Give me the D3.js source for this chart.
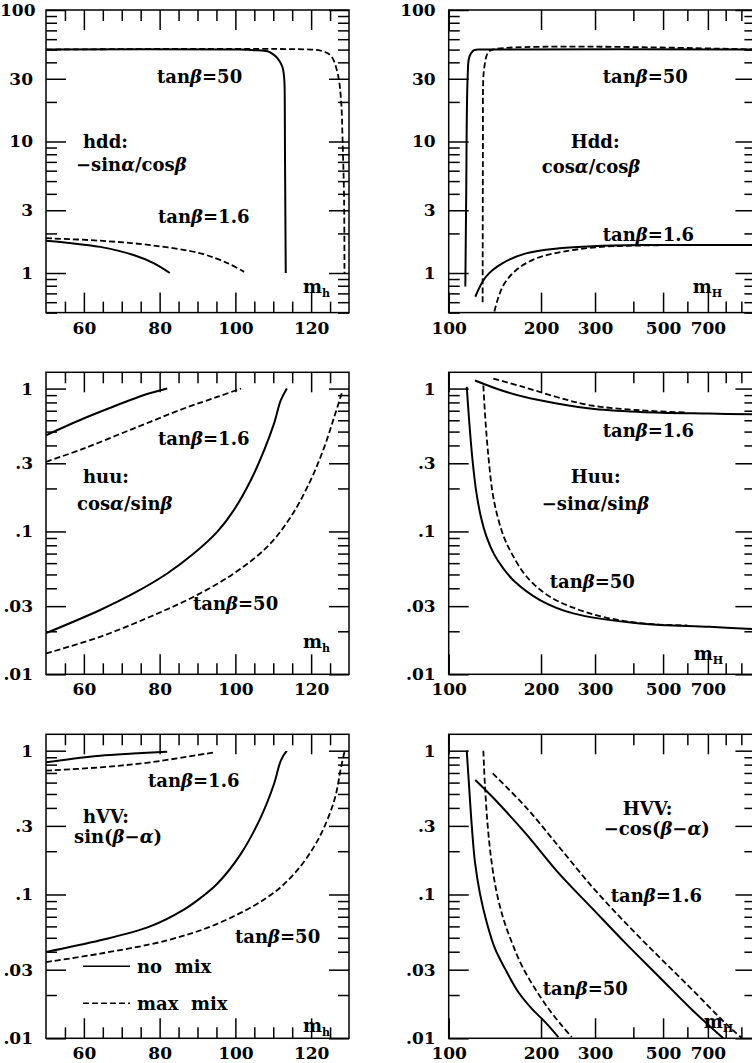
<!DOCTYPE html>
<html>
<head>
<meta charset="utf-8">
<script src="https://cdn.jsdelivr.net/npm/d3@7"></script>
<style>
body { margin: 0; background: #fff; }
svg { display: block; }
text { font-family: "DejaVu Serif", serif; font-weight: bold; fill: #000; }
</style>
</head>
<body>
<svg id="chart" width="752" height="1063"></svg>
<script>
// tick values
var linMajor = [60, 80, 100, 120],
    linMinor = [55, 65, 70, 75, 85, 90, 95, 105, 110, 115, 125],
    logMajor = [100, 200, 300, 500, 700],
    logMinor = [400, 600, 800, 900],
    yBigMajor = [1, 3, 10, 30, 100],
    ySmallMajor = [0.01, 0.03, 0.1, 0.3, 1];

// couplings: [mass, coupling]
// hdd : -sin(a)/cos(b)
var hdd50NoMix  = [[50,50],[101,50],[105,49.5],[108.5,48.5],[110,46],[111.1,43],[112.4,37],[112.9,30],[113.05,18],[113.1,8],[113.3,1]];
var hdd50MaxMix = [[50,50],[120,50],[122.6,49],[125.2,45],[127,33],[127.9,20.7],[128.3,10.3],[128.7,3.6],[128.8,1]];
var hdd16NoMix  = [[50,1.76],[55.5,1.70],[64.3,1.58],[73.1,1.37],[78.4,1.19],[82.7,1.0]];
var hdd16MaxMix = [[50,1.84],[64.3,1.76],[77.5,1.63],[90.8,1.41],[97.9,1.19],[102.3,1.02]];

// Hdd : cos(a)/cos(b)
var Hdd50NoMix  = [[113.3,0.79],[114,3.5],[115.3,31],[116.8,44],[121,49.5],[132,50],[1000,50]];
var Hdd50MaxMix = [[129,0.6],[129.3,10],[129.6,29],[130.7,37],[134,47],[139,50],[1000,50]];
var Hdd16NoMix  = [[122.1,0.66],[132.3,0.94],[150,1.19],[178.7,1.41],[229.5,1.54],[294.8,1.60],[429,1.63],[1000,1.63]];
var Hdd16MaxMix = [[140.9,0.51],[150,0.79],[165.8,1.05],[192.6,1.29],[235.4,1.45],[302,1.57],[429,1.62],[1000,1.63]];

// huu : cos(a)/sin(b)
var huu16NoMix  = [[50,0.471],[59.9,0.617],[68.7,0.764],[75.7,0.898],[82,1.0]];
var huu16MaxMix = [[50,0.307],[59.9,0.38],[73.1,0.525],[86.4,0.725],[95.2,0.874],[101.5,1.0]];
var huu50NoMix  = [[50,0.0194],[64.3,0.0282],[73.1,0.0368],[82,0.0508],[89,0.070],[95.2,0.0993],[99.6,0.141],[104.1,0.229],[107.6,0.371],[110.2,0.569],[112,0.829],[113.6,1.0]];
var huu50MaxMix = [[50,0.014],[64.3,0.0183],[77.5,0.0253],[89,0.0349],[99.6,0.0508],[108.4,0.078],[114.6,0.126],[119.9,0.229],[123.5,0.391],[126.1,0.633],[128.3,0.97]];

// Huu : -sin(a)/sin(b)
var Huu16NoMix  = [[121.8,1.14],[154.5,0.946],[198.5,0.828],[288.8,0.725],[420,0.686],[708,0.668],[1000,0.66]];
var Huu16MaxMix = [[139.8,1.175],[175.1,1.026],[225,0.873],[288.8,0.764],[420,0.705],[600,0.68]];
var Huu50NoMix  = [[114.5,1.03],[116.9,0.554],[119.6,0.315],[122.8,0.194],[127,0.13],[133,0.0912],[140.5,0.0694],[150.4,0.0554],[162.4,0.0456],[198.5,0.0331],[254.8,0.0267],[420,0.0227],[708,0.0215],[1000,0.0207]];
var Huu50MaxMix = [[129.7,1.05],[132.1,0.554],[135.1,0.315],[138.9,0.188],[144.2,0.128],[151.4,0.0912],[160.9,0.0694],[179.6,0.0482],[213.9,0.0349],[288.8,0.0267],[420,0.0228],[600,0.022]];

// hVV : sin(b-a)
var hVV16NoMix  = [[50,0.83],[57,0.88],[64.3,0.923],[73,0.955],[82,0.984]];
var hVV16MaxMix = [[50,0.726],[64.3,0.766],[77.5,0.83],[94.3,0.973]];
var hVV50NoMix  = [[50,0.0398],[64.3,0.048],[77.5,0.060],[86.4,0.0785],[91,0.0955],[95.2,0.1187],[101.4,0.191],[106.7,0.344],[110.2,0.587],[112,0.853],[113.6,1.0]];
var hVV50MaxMix = [[50,0.0339],[64.3,0.0388],[82,0.048],[95.2,0.0625],[108.5,0.0957],[115.5,0.139],[121.7,0.237],[126.1,0.45],[127.9,0.766],[128.8,0.98]];

// HVV : -cos(b-a)
var HVV50NoMix  = [[114.5,1.0],[116.5,0.571],[118.9,0.301],[121.8,0.168],[126.5,0.101],[133,0.0642],[141.6,0.042],[152.6,0.0305],[168.6,0.021],[186.5,0.0161],[206,0.013],[227.7,0.0102]];
var HVV50MaxMix = [[129.7,1.0],[131.3,0.571],[134,0.301],[138,0.168],[143.4,0.103],[150.7,0.068],[160.5,0.0467],[173,0.0321],[191.1,0.0222],[211.3,0.0161],[233.5,0.0123],[251.8,0.0102]];
var HVV16NoMix  = [[122.1,0.626],[139.2,0.474],[178.7,0.264],[229.5,0.139],[294.8,0.0794],[378.4,0.0455],[486,0.0267],[625,0.0156],[786,0.01]];
var HVV16MaxMix = [[139.2,0.695],[178.7,0.404],[229.5,0.213],[294.8,0.112],[378.4,0.063],[486,0.0367],[625,0.0216],[802,0.0126],[905,0.01]];

// layout
var cols = [{x0: 46, x1: 349, log: false}, {x0: 448.7, x1: 755.4, log: true}],
    rows = [{y0: 10, y1: 312.6}, {y0: 372.3, y1: 674.3}, {y0: 734.3, y1: 1038.3}];

var panels = [
    {col: 0, row: 0, yDom: [0.5, 100], big: true,
     curves: [[hdd50NoMix, 0], [hdd50MaxMix, 1], [hdd16NoMix, 0], [hdd16MaxMix, 1]],
     labels: [["tan{β}=50", 111, 67], ["hdd:", 37, 132], ["−sin{α}/cos{β}", 30, 155],
              ["tan{β}=1.6", 112, 207], ["m_h", 257, 277]]},
    {col: 1, row: 0, yDom: [0.5, 100], big: true,
     curves: [[Hdd50NoMix, 0], [Hdd50MaxMix, 1], [Hdd16NoMix, 0], [Hdd16MaxMix, 1]],
     labels: [["tan{β}=50", 154, 67], ["Hdd:", 122, 132, "normal"], ["cos{α}/cos{β}", 93, 157, "normal"],
              ["tan{β}=1.6", 154, 225], ["m_H", 244, 277]]},
    {col: 0, row: 1, yDom: [0.01, 1.3],
     curves: [[huu16NoMix, 0], [huu16MaxMix, 1], [huu50NoMix, 0], [huu50MaxMix, 1]],
     labels: [["tan{β}=1.6", 112, 66], ["huu:", 37, 104], ["cos{α}/sin{β}", 31, 131],
              ["tan{β}=50", 147, 231], ["m_h", 257, 269]]},
    {col: 1, row: 1, yDom: [0.01, 1.3],
     curves: [[Huu16NoMix, 0], [Huu16MaxMix, 1], [Huu50NoMix, 0], [Huu50MaxMix, 1]],
     labels: [["tan{β}=1.6", 154, 58], ["Huu:", 122, 104, "normal"], ["−sin{α}/sin{β}", 93, 131],
              ["tan{β}=50", 101, 209], ["m_H", 245, 281]]},
    {col: 0, row: 2, yDom: [0.01, 1.3], legend: true,
     curves: [[hVV16NoMix, 0], [hVV16MaxMix, 1], [hVV50NoMix, 0], [hVV50MaxMix, 1]],
     labels: [["tan{β}=1.6", 102, 46], ["hVV:", 37, 82], ["sin({β}−{α})", 28, 102],
              ["tan{β}=50", 189, 202], ["m_h", 257, 291]]},
    {col: 1, row: 2, yDom: [0.01, 1.3],
     curves: [[HVV50NoMix, 0], [HVV50MaxMix, 1], [HVV16NoMix, 0], [HVV16MaxMix, 1]],
     labels: [["HVV:", 174, 74], ["−cos({β}−{α})", 155, 94],
              ["tan{β}=1.6", 162, 161], ["tan{β}=50", 94, 254], ["m_H", 255, 287]]}
];

var svg = d3.select("#chart");

function fmtY(d) { return d < 1 ? String(d).replace(/^0/, "") : String(d); }

// {x} -> italic, _x -> subscript
function richText(sel, str) {
    str.split(/(\{[^}]*\}|_\w)/).filter(Boolean).forEach(function(p) {
        if (p[0] === "{") sel.append("tspan").attr("font-style", "italic").text(p.slice(1, -1));
        else if (p[0] === "_") sel.append("tspan").attr("font-size", "11px").attr("dy", 4).text(p.slice(1));
        else sel.append("tspan").text(p);
    });
}

function styleTicks(g) {
    g.select(".domain").remove();
    g.selectAll(".tick line").attr("stroke", "#000").attr("stroke-width", 1.5);
    g.selectAll(".tick text").attr("font-family", "DejaVu Serif").attr("font-weight", "bold")
        .attr("font-size", "17px").attr("fill", "#000");
}

panels.forEach(function(p, i) {
    var c = cols[p.col], r = rows[p.row],
        w = c.x1 - c.x0, h = r.y1 - r.y0;

    var x = c.log ? d3.scaleLog().domain([100, 1000]).range([0, w])
                  : d3.scaleLinear().domain([50, 130]).range([0, w]);
    var y = d3.scaleLog().domain(p.yDom).range([h, 0]);

    var xMajor = c.log ? logMajor : linMajor,
        xMinor = c.log ? logMinor : linMinor,
        yMajor = p.big ? yBigMajor : ySmallMajor,
        yMinor = y.ticks().filter(function(t) {
            return !yMajor.some(function(m) { return Math.abs(m - t) < 1e-9; });
        });

    var g = svg.append("g").attr("transform", "translate(" + c.x0 + "," + r.y0 + ")");

    // ticks, pointing inward
    g.append("g").attr("transform", "translate(0," + h + ")")
        .call(d3.axisBottom(x).tickValues(xMajor).tickSize(-20).tickSizeOuter(0).tickPadding(9)
              .tickFormat(d3.format("d"))).call(styleTicks);
    g.append("g").attr("transform", "translate(0," + h + ")")
        .call(d3.axisBottom(x).tickValues(xMinor).tickSize(-11).tickFormat("")).call(styleTicks);
    g.append("g").call(d3.axisTop(x).tickValues(xMajor).tickSize(-20).tickFormat("")).call(styleTicks);
    g.append("g").call(d3.axisTop(x).tickValues(xMinor).tickSize(-11).tickFormat("")).call(styleTicks);

    var left = g.append("g")
        .call(d3.axisLeft(y).tickValues(yMajor).tickSize(-20).tickSizeOuter(0).tickPadding(13).tickFormat(fmtY))
        .call(styleTicks);
    g.append("g").call(d3.axisLeft(y).tickValues(yMinor).tickSize(-11).tickFormat("")).call(styleTicks);
    g.append("g").attr("transform", "translate(" + w + ",0)")
        .call(d3.axisRight(y).tickValues(yMajor).tickSize(-20).tickFormat("")).call(styleTicks);
    g.append("g").attr("transform", "translate(" + w + ",0)")
        .call(d3.axisRight(y).tickValues(yMinor).tickSize(-11).tickFormat("")).call(styleTicks);

    // keep left labels inside the page
    left.selectAll(".tick text").each(function() {
        var b = this.getBBox(), m = this.parentNode.getCTM();
        var absX = m.e + b.x;
        if (absX < 0) d3.select(this).attr("x", +d3.select(this).attr("x") - absX);
    });

    g.append("rect").attr("width", w).attr("height", h)
        .attr("fill", "none").attr("stroke", "#000").attr("stroke-width", 1.5);

    g.append("clipPath").attr("id", "clip" + i)
        .append("rect").attr("width", w).attr("height", h);

    var line = d3.line()
        .x(function(d) { return x(d[0]); })
        .y(function(d) { return y(d[1]); })
        .curve(d3.curveCatmullRom.alpha(0.5));

    p.curves.forEach(function(cv) {
        g.append("path").attr("clip-path", "url(#clip" + i + ")")
            .attr("d", line(cv[0]))
            .attr("fill", "none").attr("stroke", "#000")
            .attr("stroke-width", cv[1] ? 1.8 : 2)
            .attr("stroke-dasharray", cv[1] ? "6,3" : null);
    });

    p.labels.forEach(function(l) {
        var t = g.append("text").attr("x", l[1]).attr("y", l[2]).attr("dy", "0.35em")
            .attr("font-size", "18px").attr("font-weight", l[3] || "bold");
        richText(t, l[0]);
    });

    if (p.legend) {
        [["no  mix", 0, 232], ["max  mix", 1, 269]].forEach(function(e) {
            g.append("line").attr("x1", 37).attr("x2", 84).attr("y1", e[2]).attr("y2", e[2])
                .attr("stroke", "#000").attr("stroke-width", 1.5)
                .attr("stroke-dasharray", e[1] ? "6,3" : null);
            g.append("text").attr("x", 91).attr("y", e[2]).attr("dy", "0.35em")
                .attr("font-size", "18px").style("white-space", "pre").text(e[0]);
        });
    }
});
</script>
</body>
</html>
